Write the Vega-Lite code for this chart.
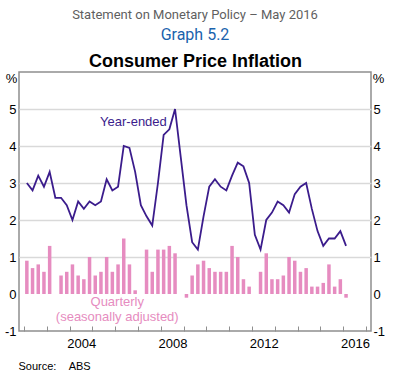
{
  "$schema": "https://vega.github.io/schema/vega-lite/v6.json",
  "autosize": {"type": "none"},
  "padding": {"left": 19, "top": 72, "right": 29, "bottom": 46},
  "width": 352,
  "height": 259,
  "background": "white",
  "title": {
    "text": "Statement on Monetary Policy – May 2016",
    "subtitle": "Graph 5.2",
    "anchor": "middle",
    "frame": "group",
    "font": "Roboto",
    "fontSize": 13,
    "fontWeight": "normal",
    "color": "#5f5f5f",
    "subtitleFont": "Roboto",
    "subtitleFontSize": 16,
    "subtitleColor": "#1b63ad",
    "subtitlePadding": 5,
    "offset": 10
  },
  "config": {
    "view": {"stroke": "#8f8f8f", "strokeWidth": 1.5},
    "axis": {
      "labelFont": "Liberation Sans",
      "titleFont": "Liberation Sans",
      "labelFontSize": 13,
      "labelColor": "#000000",
      "titleColor": "#000000",
      "titleFontWeight": "normal"
    }
  },
  "datasets": {
    "cpi": [
      {"t": 2002.125, "ye": 3.0, "q": 0.9},
      {"t": 2002.375, "ye": 2.8, "q": 0.7},
      {"t": 2002.625, "ye": 3.2, "q": 0.8},
      {"t": 2002.875, "ye": 2.9, "q": 0.6},
      {"t": 2003.125, "ye": 3.3, "q": 1.3},
      {"t": 2003.375, "ye": 2.6, "q": 0.0},
      {"t": 2003.625, "ye": 2.6, "q": 0.5},
      {"t": 2003.875, "ye": 2.4, "q": 0.6},
      {"t": 2004.125, "ye": 2.0, "q": 0.8},
      {"t": 2004.375, "ye": 2.5, "q": 0.5},
      {"t": 2004.625, "ye": 2.3, "q": 0.4},
      {"t": 2004.875, "ye": 2.5, "q": 1.0},
      {"t": 2005.125, "ye": 2.4, "q": 0.5},
      {"t": 2005.375, "ye": 2.5, "q": 0.6},
      {"t": 2005.625, "ye": 3.1, "q": 1.0},
      {"t": 2005.875, "ye": 2.8, "q": 0.6},
      {"t": 2006.125, "ye": 2.9, "q": 0.8},
      {"t": 2006.375, "ye": 4.0, "q": 1.5},
      {"t": 2006.625, "ye": 3.95, "q": 0.8},
      {"t": 2006.875, "ye": 3.3, "q": 0.1},
      {"t": 2007.125, "ye": 2.4, "q": 0.0},
      {"t": 2007.375, "ye": 2.1, "q": 1.2},
      {"t": 2007.625, "ye": 1.85, "q": 0.6},
      {"t": 2007.875, "ye": 3.0, "q": 1.2},
      {"t": 2008.125, "ye": 4.3, "q": 1.2},
      {"t": 2008.375, "ye": 4.45, "q": 1.3},
      {"t": 2008.625, "ye": 5.0, "q": 1.1},
      {"t": 2008.875, "ye": 3.7, "q": 0.0},
      {"t": 2009.125, "ye": 2.4, "q": -0.1},
      {"t": 2009.375, "ye": 1.4, "q": 0.5},
      {"t": 2009.625, "ye": 1.2, "q": 0.8},
      {"t": 2009.875, "ye": 2.1, "q": 0.9},
      {"t": 2010.125, "ye": 2.9, "q": 0.7},
      {"t": 2010.375, "ye": 3.1, "q": 0.6},
      {"t": 2010.625, "ye": 2.9, "q": 0.6},
      {"t": 2010.875, "ye": 2.8, "q": 0.6},
      {"t": 2011.125, "ye": 3.2, "q": 1.3},
      {"t": 2011.375, "ye": 3.55, "q": 1.0},
      {"t": 2011.625, "ye": 3.45, "q": 0.4},
      {"t": 2011.875, "ye": 3.0, "q": 0.2},
      {"t": 2012.125, "ye": 1.6, "q": 0.0},
      {"t": 2012.375, "ye": 1.2, "q": 0.6},
      {"t": 2012.625, "ye": 2.0, "q": 1.1},
      {"t": 2012.875, "ye": 2.2, "q": 0.4},
      {"t": 2013.125, "ye": 2.5, "q": 0.4},
      {"t": 2013.375, "ye": 2.4, "q": 0.5},
      {"t": 2013.625, "ye": 2.2, "q": 1.0},
      {"t": 2013.875, "ye": 2.7, "q": 0.9},
      {"t": 2014.125, "ye": 2.9, "q": 0.6},
      {"t": 2014.375, "ye": 3.0, "q": 0.7},
      {"t": 2014.625, "ye": 2.3, "q": 0.2},
      {"t": 2014.875, "ye": 1.7, "q": 0.2},
      {"t": 2015.125, "ye": 1.3, "q": 0.3},
      {"t": 2015.375, "ye": 1.5, "q": 0.8},
      {"t": 2015.625, "ye": 1.5, "q": 0.2},
      {"t": 2015.875, "ye": 1.7, "q": 0.4},
      {"t": 2016.125, "ye": 1.3, "q": -0.1}
    ],
    "notes": [
      {"x": 2006.8, "y": 4.64, "label": "Year-ended", "s": "ye"},
      {"x": 2006.09, "y": -0.22, "label": "Quarterly", "s": "q"},
      {"x": 2006.09, "y": -0.62, "label": "(seasonally adjusted)", "s": "q"}
    ]
  },
  "layer": [
    {
      "data": {"name": "cpi"},
      "mark": {"type": "bar", "color": "#e68cc0", "size": 3.5},
      "encoding": {
        "x": {
          "field": "t",
          "type": "quantitative",
          "scale": {"domain": [2002, 2017], "nice": false, "zero": false},
          "axis": {
            "orient": "bottom",
            "values": [2002, 2003, 2004, 2005, 2006, 2007, 2008, 2009, 2010, 2011, 2012, 2013, 2014, 2015, 2016, 2017],
            "labelExpr": "datum.value % 4 === 0 ? '' + datum.value : ''",
            "labelOffset": 11.7,
            "labelFlush": false,
            "labelOverlap": false,
            "ticks": true,
            "tickSize": -5,
            "tickColor": "#8f8f8f",
            "tickWidth": 1,
            "domain": false,
            "grid": false,
            "labelPadding": 11,
            "title": "Source:\u00a0\u00a0\u00a0\u00a0ABS",
            "titleFontSize": 11,
            "titleX": -1,
            "titleY": 38,
            "titleAlign": "left",
            "titleAnchor": "start",
            "titleBaseline": "alphabetic"
          }
        },
        "y": {
          "field": "q",
          "type": "quantitative",
          "scale": {"domain": [-1, 6], "nice": false, "zero": false},
          "axis": {
            "orient": "left",
            "values": [-1, 0, 1, 2, 3, 4, 5],
            "labelExpr": "'' + datum.value",
            "ticks": false,
            "domain": false,
            "grid": true,
            "gridColor": {"condition": {"test": "datum.value <= 0", "value": "transparent"}, "value": "#d9d9d9"},
            "gridWidth": 1.5,
            "labelPadding": 3,
            "title": "%",
            "titleAngle": 0,
            "titleX": -8,
            "titleY": 10,
            "titleAlign": "center",
            "titleBaseline": "alphabetic",
            "titleFontSize": 13
          }
        }
      }
    },
    {
      "mark": {"type": "rule", "color": "#8f8f8f", "strokeWidth": 1},
      "encoding": {
        "y": {"datum": 0, "type": "quantitative", "axis": null}
      }
    },
    {
      "data": {"name": "cpi"},
      "mark": {"type": "line", "color": "#3b1c8c", "strokeWidth": 1.8},
      "encoding": {
        "x": {
          "field": "t",
          "type": "quantitative",
          "axis": {
            "orient": "top",
            "labels": false,
            "ticks": false,
            "domain": false,
            "grid": false,
            "title": "Consumer Price Inflation",
            "titleFontSize": 18,
            "titleFontWeight": "bold",
            "titleX": 176,
            "titleY": -5.5,
            "titleAlign": "center",
            "titleBaseline": "alphabetic"
          }
        },
        "y": {
          "field": "ye",
          "type": "quantitative",
          "axis": {
            "orient": "right",
            "values": [-1, 0, 1, 2, 3, 4, 5],
            "labelExpr": "'' + datum.value",
            "ticks": false,
            "domain": false,
            "grid": false,
            "labelPadding": 2,
            "title": "%",
            "titleAngle": 0,
            "titleX": 7,
            "titleY": 10,
            "titleAlign": "center",
            "titleBaseline": "alphabetic",
            "titleFontSize": 13
          }
        }
      }
    },
    {
      "data": {"name": "notes"},
      "mark": {"type": "text", "font": "Liberation Sans", "fontSize": 13, "align": "center", "baseline": "middle"},
      "encoding": {
        "x": {"field": "x", "type": "quantitative", "axis": null},
        "y": {"field": "y", "type": "quantitative", "axis": null},
        "text": {"field": "label"},
        "color": {
          "field": "s",
          "type": "nominal",
          "scale": {"domain": ["ye", "q"], "range": ["#3b1c8c", "#e68cc0"]},
          "legend": null
        }
      }
    }
  ],
  "resolve": {"axis": {"x": "independent", "y": "independent"}}
}
